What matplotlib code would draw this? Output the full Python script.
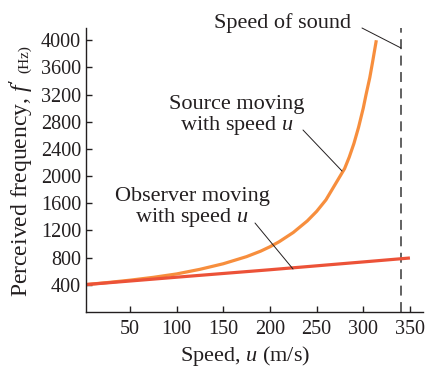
import matplotlib
matplotlib.use("Agg")
import matplotlib.pyplot as plt

# -----------------------------
# Data
# -----------------------------

source_u = [0, 25, 50, 75, 100, 125, 150, 175, 190, 200, 210, 225, 240, 250,
            260, 270, 280, 285, 290, 295, 300, 303, 307, 310, 314]
source_f = [400, 432, 468, 510, 560, 628, 710, 815, 895, 960, 1035, 1170, 1340, 1480,
            1650, 1880, 2110, 2280, 2480, 2720, 3000, 3200, 3450, 3680, 4000]

observer_u = [0, 100, 200, 300, 350]
observer_f = [400, 512, 622, 737, 795]

speed_of_sound = 340

x_ticks = [50, 100, 150, 200, 250, 300, 350]
y_ticks = [400, 800, 1200, 1600, 2000, 2400, 2800, 3200, 3600, 4000]

# -----------------------------
# Style
# -----------------------------

plt.rcParams["font.family"] = "Liberation Serif"
plt.rcParams["mathtext.fontset"] = "custom"
plt.rcParams["mathtext.rm"] = "Liberation Serif"
plt.rcParams["mathtext.it"] = "Liberation Serif:italic"

ink = "#231f20"
W, H = 427, 367

fig = plt.figure(figsize=(W / 100, H / 100), dpi=100)
ax = fig.add_axes([86 / W, 1 - 312 / H, 337 / W, 284 / H])

# -----------------------------
# Plot
# -----------------------------

ax.axvline(speed_of_sound, color="#555555", lw=1.3, dashes=(5.5, 3.6))
ax.plot(source_u, source_f, color="#f78e3d", lw=2.3, solid_capstyle="butt")
ax.plot(observer_u, observer_f, color="#ec5238", lw=2.3, solid_capstyle="butt")

ax.set_xlim(3, 364)
ax.set_ylim(0, 4180)
ax.set_xticks(x_ticks)
ax.set_yticks(y_ticks)

for side in ["top", "right"]:
    ax.spines[side].set_visible(False)
for side in ["left", "bottom"]:
    ax.spines[side].set_color(ink)
    ax.spines[side].set_linewidth(1.0)

ax.tick_params(axis="both", direction="in", length=4, width=1.0, color=ink,
               labelcolor=ink, labelsize=14.5)
ax.tick_params(axis="x", pad=5.5)
ax.tick_params(axis="y", pad=3.5)

# axis labels placed by pixel
fig.text(245 / W, 1 - 361 / H, r"Speed, $u$ (m/s)", ha="center", va="baseline",
         color=ink, fontsize=16)
fig.text(22 / W, 1 - 297 / H, r"Perceived frequency, $f'$", rotation=90,
         ha="center", va="bottom", color=ink, fontsize=17)
fig.text(25 / W, 1 - 73 / H, "(Hz)", rotation=90,
         ha="center", va="bottom", color=ink, fontsize=11)

# -----------------------------
# Annotations
# -----------------------------

def px(x, y):
    # pixel position in the image -> data coords
    return ax.transData.inverted().transform(
        fig.transFigure.transform((x / W, 1 - y / H)))

fig.canvas.draw()

leader = dict(arrowstyle="-", color=ink, lw=0.7, shrinkA=0, shrinkB=0)

ax.text(*px(283, 23), "Speed of sound", ha="center", va="center",
        color=ink, fontsize=16)
ax.annotate("", xy=px(401, 48), xytext=px(362, 28), arrowprops=leader)

ax.text(*px(237, 116), "Source moving\nwith speed $u$", ha="center", va="center",
        color=ink, fontsize=16, linespacing=1.0, multialignment="center")
ax.annotate("", xy=px(342, 171), xytext=px(303, 130), arrowprops=leader)

ax.text(*px(192, 208), "Observer moving\nwith speed $u$", ha="center", va="center",
        color=ink, fontsize=16, linespacing=1.0, multialignment="center")
ax.annotate("", xy=px(293, 269), xytext=px(255, 223), arrowprops=leader)

fig.savefig("out.png", dpi=100)
plt.close(fig)
